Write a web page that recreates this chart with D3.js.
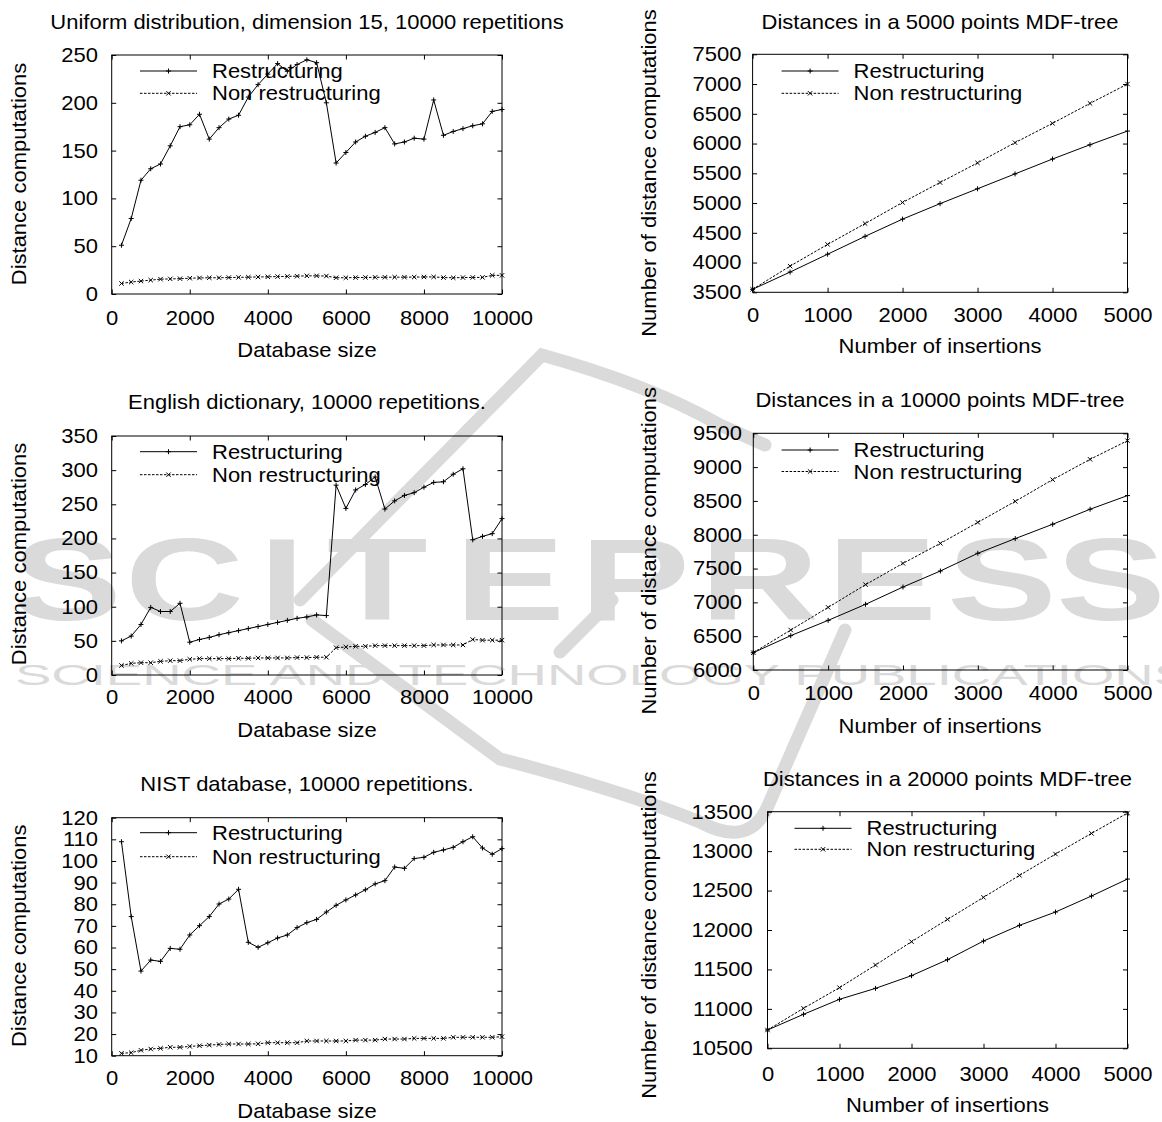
<!DOCTYPE html>
<html>
<head>
<meta charset="utf-8">
<script src="https://cdn.jsdelivr.net/npm/d3@7"></script>
<style>
  body { margin: 0; background: #fff; }
  svg { display: block; }
  text { font-family: "Liberation Sans", Arial, Helvetica, sans-serif; fill: #000; }
</style>
</head>
<body>
<svg id="chart" width="1162" height="1122"></svg>
<script>
// ---- data ----
const dbSizes = [250, 500, 750, 1000, 1250, 1500, 1750, 2000, 2250, 2500,
  2750, 3000, 3250, 3500, 3750, 4000, 4250, 4500, 4750, 5000,
  5250, 5500, 5750, 6000, 6250, 6500, 6750, 7000, 7250, 7500,
  7750, 8000, 8250, 8500, 8750, 9000, 9250, 9500, 9750, 10000];
const insertions = [0, 500, 1000, 1500, 2000, 2500, 3000, 3500, 4000, 4500, 5000];

const uniformRestr = [51, 79, 119, 131, 136, 155, 175, 177, 188, 162,
  174, 183, 187, 206, 219, 230, 241, 233, 240, 245,
  242, 200, 137, 148, 159, 165, 169, 174, 157, 159,
  163, 162, 203, 166, 170, 173, 176, 178, 191, 193];
const uniformNonRestr = [11, 12.5, 13.5, 14.5, 15.5, 15.8, 16, 16.5, 16.8, 17,
  17, 17.2, 17.4, 17.6, 17.8, 18, 18.2, 18.4, 18.6, 19,
  19, 18.8, 17, 17, 17.2, 17.3, 17.4, 17.5, 17.6, 17.6,
  17.7, 17.8, 17.9, 17.2, 17, 17.2, 17.3, 17.4, 19.5, 19.5];

const englishRestr = [50, 57, 74, 99, 93, 93, 105, 48, 52, 55,
  59, 62, 65, 68, 71, 74, 77, 80, 83, 85,
  88, 87, 278, 244, 271, 279, 290, 243, 255, 263,
  267, 275, 282, 283, 294, 302, 198, 203, 207, 229];
const englishNonRestr = [14, 17, 18, 18, 20, 21, 21, 23, 24, 24,
  24, 24, 24.5, 24.5, 25, 25, 25, 25, 25.5, 25.5,
  26, 26, 40, 41, 42, 42, 43, 43, 43, 43,
  43, 43, 44, 44, 44, 44, 52, 51, 51, 51];

const nistRestr = [108.9, 74.3, 49.1, 54.2, 53.6, 59.6, 59.2, 65.8, 70.1, 74.3,
  80.1, 82.4, 86.9, 62.4, 60.1, 62.2, 64.4, 65.8, 69.2, 71.5,
  73, 76.4, 79.5, 82, 84.3, 86.7, 89.4, 90.9, 97.2, 96.6,
  101.1, 101.7, 104, 105.1, 106.3, 108.9, 111.2, 106, 103.1, 105.7];
const nistNonRestr = [11.1, 11.4, 12.5, 13.1, 13.4, 13.9, 13.9, 14.3, 14.6, 14.9,
  15.2, 15.4, 15.4, 15.4, 15.5, 16, 16, 16, 16, 16.8,
  16.8, 16.8, 16.8, 16.8, 17.2, 17.2, 17.2, 17.7, 17.7, 17.7,
  18, 18, 18, 18, 18.5, 18.5, 18.5, 18.5, 18.5, 18.8];

const mdf5000Restr = [3550, 3840, 4140, 4440, 4730, 4990, 5240, 5490, 5740, 5980, 6210];
const mdf5000NonRestr = [3550, 3940, 4305, 4655, 5010, 5345, 5675, 6015, 6340, 6675, 7000];
const mdf10000Restr = [6256, 6508, 6734, 6971, 7227, 7464, 7726, 7943, 8155, 8377, 8579];
const mdf10000NonRestr = [6256, 6591, 6926, 7262, 7577, 7873, 8183, 8494, 8815, 9115, 9391];
const mdf20000Restr = [10732, 10931, 11121, 11260, 11421, 11624, 11860, 12059, 12228, 12431, 12646];
const mdf20000NonRestr = [10732, 11007, 11269, 11556, 11852, 12135, 12414, 12693, 12963, 13225, 13483];

const dbTicks = [0, 2000, 4000, 6000, 8000, 10000];
const insTicks = [0, 1000, 2000, 3000, 4000, 5000];
const uniformTicks = [0, 50, 100, 150, 200, 250];
const englishTicks = [0, 50, 100, 150, 200, 250, 300, 350];
const nistTicks = [10, 20, 30, 40, 50, 60, 70, 80, 90, 100, 110, 120];
const mdf5000Ticks = [3500, 4000, 4500, 5000, 5500, 6000, 6500, 7000, 7500];
const mdf10000Ticks = [6000, 6500, 7000, 7500, 8000, 8500, 9000, 9500];
const mdf20000Ticks = [10500, 11000, 11500, 12000, 12500, 13000, 13500];

const seriesNames = ['Restructuring', 'Non restructuring'];

const svg = d3.select('#chart');
const SX = 1.1;   // text in the figure is a little wider than the font

// ---- faint publisher watermark behind the plots ----
const wmColor = '#dadada';
let wm = svg.append('g').attr('class', 'watermark');
// big letters, each placed where it sits in the scan
let wmLetters = 'SCITEPRESS'.split('');
let wmStarts = [12, 125, 259, 327, 455, 580, 700, 827, 947, 1056];
let wmScale = 1.42;
wm.append('text')
  .attr('transform', `scale(${wmScale},1)`)
  .attr('y', 620)
  .attr('font-size', 116).attr('font-weight', 'bold')
  .style('fill', wmColor)
  .selectAll('tspan')
  .data(wmLetters)
  .enter().append('tspan')
  .attr('x', (d, i) => wmStarts[i] / wmScale)
  .text(d => d);
wm.append('text')
  .attr('x', 15).attr('y', 685)
  .attr('font-size', 29)
  .attr('textLength', 1175).attr('lengthAdjust', 'spacingAndGlyphs')
  .style('fill', wmColor)
  .text('SCIENCE AND TECHNOLOGY PUBLICATIONS');
let swoosh = [
  'M300,600 L542,355 Q650,385 720,425 L765,445',
  'M312,620 L500,759 Q620,790 700,822 Q748,848 767,808 L845,630',
  'M612,600 L560,652'
];
wm.selectAll('path').data(swoosh).enter().append('path')
  .attr('d', d => d)
  .attr('fill', 'none')
  .attr('stroke', wmColor)
  .attr('stroke-width', 13)
  .attr('stroke-linecap', 'round');

// ---- helpers ----
function label(g, x, y, str, rot) {
  g.append('text')
    .attr('transform', `translate(${x},${y}) rotate(${rot || 0}) scale(${SX},1)`)
    .attr('text-anchor', 'middle')
    .attr('font-size', 20)
    .text(str);
}

const plusPath = 'M-2.5,0H2.5M0,-2.5V2.5';
const crossPath = 'M-2.2,-2.2L2.2,2.2M-2.2,2.2L2.2,-2.2';

function drawPanel(p) {
  let g = svg.append('g');
  let x = d3.scaleLinear().domain([p.xTicks[0], p.xTicks[p.xTicks.length - 1]]).range([p.left, p.right]);
  let y = d3.scaleLinear().domain([p.yTicks[0], p.yTicks[p.yTicks.length - 1]]).range([p.bottom, p.top]);

  g.append('g').attr('transform', `translate(0,${p.bottom})`)
    .call(d3.axisBottom(x).tickValues(p.xTicks).tickSizeInner(-4.5).tickSizeOuter(0)
      .tickPadding(p.xPad).tickFormat(d3.format('d')));
  g.append('g').attr('transform', `translate(0,${p.top})`)
    .call(d3.axisTop(x).tickValues(p.xTicks).tickSizeInner(-4.5).tickSizeOuter(0).tickFormat(''));
  g.append('g').attr('transform', `translate(${p.left},0)`)
    .call(d3.axisLeft(y).tickValues(p.yTicks).tickSizeInner(-4.5).tickSizeOuter(0)
      .tickPadding(p.yPad).tickFormat(d3.format('d')));
  g.append('g').attr('transform', `translate(${p.right},0)`)
    .call(d3.axisRight(y).tickValues(p.yTicks).tickSizeInner(-4.5).tickSizeOuter(0).tickFormat(''));

  g.selectAll('.domain').remove();
  g.selectAll('.tick line').attr('stroke', '#000');
  g.selectAll('.tick text')
    .attr('font-size', 20)
    .style('font-family', '"Liberation Sans", Arial, Helvetica, sans-serif')
    .attr('transform', `scale(${SX},1)`);

  g.append('rect')
    .attr('x', p.left).attr('y', p.top)
    .attr('width', p.right - p.left).attr('height', p.bottom - p.top)
    .attr('fill', 'none').attr('stroke', '#000').attr('stroke-width', 1);

  let line = d3.line().x((d, i) => x(p.xs[i])).y(d => y(d));
  let styles = [
    { dash: null, marker: plusPath },
    { dash: '2.5,1.5', marker: crossPath }
  ];

  [p.restr, p.nonRestr].forEach((vals, k) => {
    g.append('path')
      .datum(vals)
      .attr('d', line)
      .attr('fill', 'none')
      .attr('stroke', '#000')
      .attr('stroke-width', 1)
      .attr('stroke-dasharray', styles[k].dash);
    g.selectAll('.m' + k)
      .data(vals)
      .enter().append('path')
      .attr('class', 'm' + k)
      .attr('transform', (d, i) => `translate(${x(p.xs[i])},${y(d)})`)
      .attr('d', styles[k].marker)
      .attr('stroke', '#000')
      .attr('fill', 'none');
  });

  // legend
  seriesNames.forEach((name, k) => {
    let ly = p.legendY + k * p.legendGap;
    g.append('line')
      .attr('x1', p.legendX).attr('x2', p.legendX + 57)
      .attr('y1', ly).attr('y2', ly)
      .attr('stroke', '#000')
      .attr('stroke-dasharray', styles[k].dash);
    g.append('path')
      .attr('transform', `translate(${p.legendX + 28.5},${ly})`)
      .attr('d', styles[k].marker)
      .attr('stroke', '#000');
    g.append('text')
      .attr('transform', `translate(${p.legendX + 72},${ly + 7}) scale(${SX},1)`)
      .attr('font-size', 20)
      .text(name);
  });

  label(g, p.titleX, p.titleY, p.title);
  label(g, p.titleX, p.xLabelY, p.xLabel);
  label(g, p.yLabelX, p.yLabelY, p.yLabel, -90);
}

const panels = [
  { title: 'Uniform distribution, dimension 15, 10000 repetitions', xs: dbSizes,
    restr: uniformRestr, nonRestr: uniformNonRestr, xTicks: dbTicks, yTicks: uniformTicks,
    xLabel: 'Database size', yLabel: 'Distance computations',
    left: 111.7, right: 502, top: 55, bottom: 294, xPad: 16.8, yPad: 12.5,
    titleX: 307, titleY: 29, xLabelY: 357, yLabelX: 25.5, yLabelY: 174,
    legendX: 140, legendY: 71, legendGap: 22.3 },
  { title: 'Distances in a 5000 points MDF-tree', xs: insertions,
    restr: mdf5000Restr, nonRestr: mdf5000NonRestr, xTicks: insTicks, yTicks: mdf5000Ticks,
    xLabel: 'Number of insertions', yLabel: 'Number of distance computations',
    left: 752.6, right: 1127.5, top: 54.3, bottom: 292.3, xPad: 15.2, yPad: 10.1,
    titleX: 940, titleY: 29, xLabelY: 353, yLabelX: 655.5, yLabelY: 173,
    legendX: 781.6, legendY: 71, legendGap: 22.3 },
  { title: 'English dictionary, 10000 repetitions.', xs: dbSizes,
    restr: englishRestr, nonRestr: englishNonRestr, xTicks: dbTicks, yTicks: englishTicks,
    xLabel: 'Database size', yLabel: 'Distance computations',
    left: 111.7, right: 502, top: 436, bottom: 675, xPad: 14.8, yPad: 12.5,
    titleX: 307, titleY: 409, xLabelY: 737, yLabelX: 25.5, yLabelY: 554,
    legendX: 140, legendY: 451.7, legendGap: 23 },
  { title: 'Distances in a 10000 points MDF-tree', xs: insertions,
    restr: mdf10000Restr, nonRestr: mdf10000NonRestr, xTicks: insTicks, yTicks: mdf10000Ticks,
    xLabel: 'Number of insertions', yLabel: 'Number of distance computations',
    left: 753.3, right: 1127.5, top: 433.3, bottom: 670, xPad: 15.8, yPad: 10.3,
    titleX: 940, titleY: 406.7, xLabelY: 732.7, yLabelX: 655.5, yLabelY: 550.8,
    legendX: 781.6, legendY: 450, legendGap: 21.5 },
  { title: 'NIST database, 10000 repetitions.', xs: dbSizes,
    restr: nistRestr, nonRestr: nistNonRestr, xTicks: dbTicks, yTicks: nistTicks,
    xLabel: 'Database size', yLabel: 'Distance computations',
    left: 111.7, right: 502, top: 817.7, bottom: 1055.7, xPad: 15.1, yPad: 12.5,
    titleX: 307, titleY: 790.7, xLabelY: 1118, yLabelX: 25.5, yLabelY: 935.8,
    legendX: 140, legendY: 832.7, legendGap: 24 },
  { title: 'Distances in a 20000 points MDF-tree', xs: insertions,
    restr: mdf20000Restr, nonRestr: mdf20000NonRestr, xTicks: insTicks, yTicks: mdf20000Ticks,
    xLabel: 'Number of insertions', yLabel: 'Number of distance computations',
    left: 767.5, right: 1127.5, top: 811.7, bottom: 1048.3, xPad: 18.2, yPad: 13.5,
    titleX: 947.5, titleY: 786, xLabelY: 1111.7, yLabelX: 655.5, yLabelY: 935,
    legendX: 794.5, legendY: 828.3, legendGap: 21 }
];

panels.forEach(drawPanel);
</script>
</body>
</html>
